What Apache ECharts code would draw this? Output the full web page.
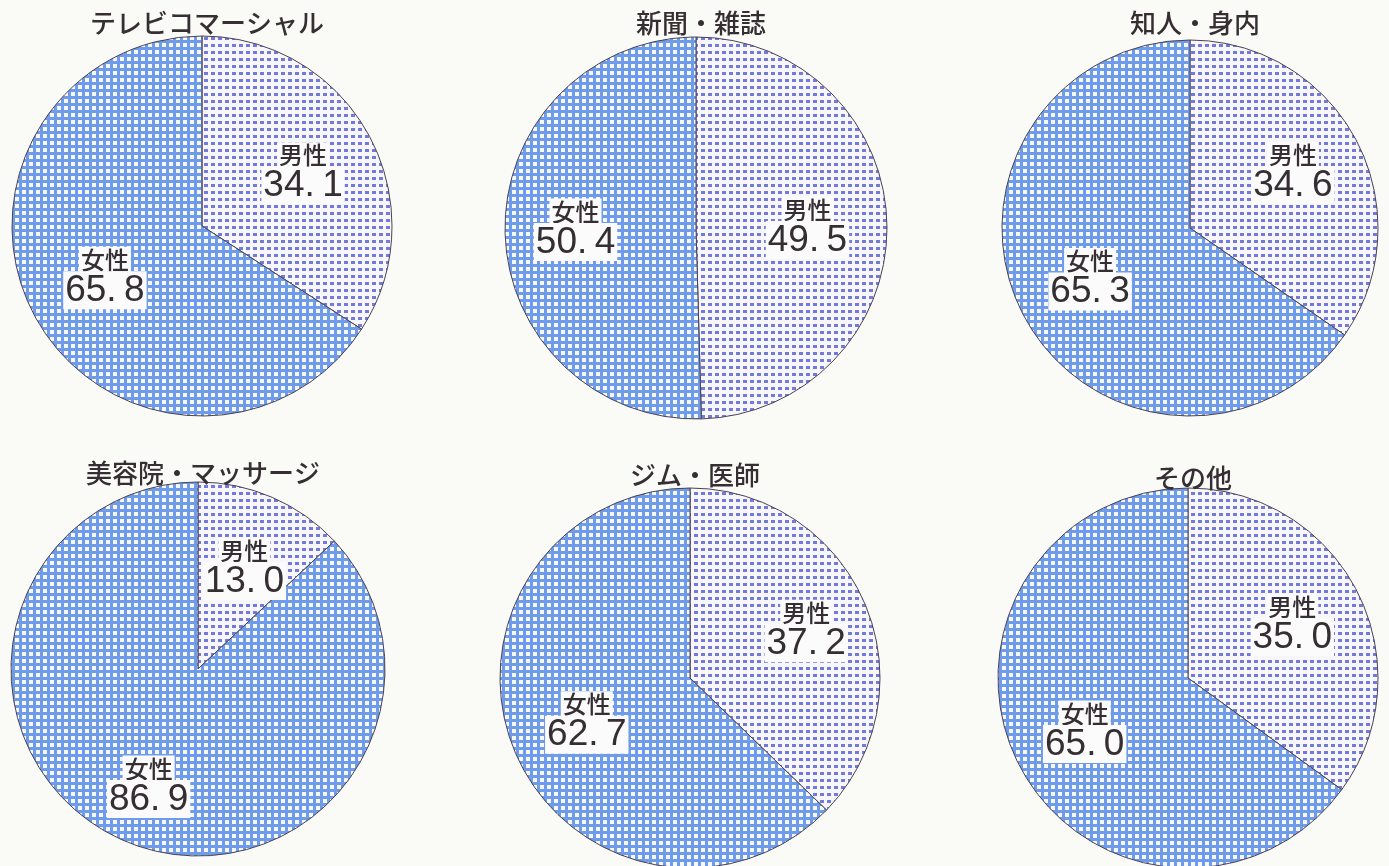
<!DOCTYPE html>
<html>
<head>
<meta charset="utf-8">
<script src="https://cdn.jsdelivr.net/npm/echarts@6/dist/echarts.min.js"></script>
<style>
  html, body { margin: 0; padding: 0; background: #fafaf7; }
  #chart { width: 1389px; height: 866px; }
</style>
</head>
<body>
<div id="chart"></div>
<script>
// 情報源別の男女比率（%）
const sources = ['テレビコマーシャル', '新聞・雑誌', '知人・身内', '美容院・マッサージ', 'ジム・医師', 'その他'];
const genders = ['男性', '女性'];
const maleShare = [34.1, 49.5, 34.6, 13.0, 37.2, 35.0];
const femaleShare = [65.8, 50.4, 65.3, 86.9, 62.7, 65.0];

// 各円の配置（中心・半径）とラベルの微調整
const centers = [[202, 226], [696, 228], [1190, 228], [198, 669], [690, 678], [1188, 678]];
const radii = [190, 191, 188, 187, 190, 190];
const titleY = [5, 5, 5, 455, 457, 460];
const labelShift = [
  [[15, -7], [-11, 4]],
  [[13, 0], [-22, -1]],
  [[17, -11], [-14, 5]],
  [[8, -13], [-11, 28]],
  [[26, -10], [-13, 5]],
  [[17, -10], [-16, 8]]
];

// 網掛け模様
function makePattern(bg, fg, size, x, y, w, h) {
  const c = document.createElement('canvas');
  c.width = size; c.height = size;
  const ctx = c.getContext('2d');
  ctx.fillStyle = bg; ctx.fillRect(0, 0, size, size);
  ctx.fillStyle = fg; ctx.fillRect(x, y, w, h);
  return c;
}
const malePattern = makePattern('#f6f6fb', '#7479dc', 7, 1, 2, 4, 3);
const femalePattern = makePattern('#6f9cea', '#f6f8fd', 7, 1, 1, 4, 4);
const fills = [malePattern, femalePattern];

const textColor = '#352e33';
const labelRich = {
  name: {
    fontFamily: '"Noto Sans CJK JP", sans-serif',
    fontSize: 24,
    fontWeight: 500,
    color: textColor,
    backgroundColor: '#fbfbfb',
    padding: [1, 2, 0, 2],
    lineHeight: 27
  },
  val: {
    fontFamily: '"Liberation Sans", Arimo, sans-serif',
    fontSize: 37,
    color: textColor,
    backgroundColor: '#fbfbfb',
    padding: [1, 2, 0, 2],
    lineHeight: 35
  }
};

const titles = sources.map((s, i) => ({
  text: s,
  left: centers[i][0],
  top: titleY[i],
  textAlign: 'center',
  textStyle: {
    fontFamily: '"Noto Sans CJK JP", sans-serif',
    fontSize: 26,
    fontWeight: 500,
    color: textColor
  }
}));

const series = sources.map((s, i) => ({
  type: 'pie',
  name: s,
  center: centers[i],
  radius: radii[i],
  startAngle: 90,
  clockwise: true,
  silent: true,
  animation: false,
  itemStyle: { borderColor: '#4d4350', borderWidth: 1 },
  label: {
    show: true,
    position: 'inside',
    formatter: p => '{name|' + p.name + '}\n{val|' + p.value.toFixed(1).replace('.', '.\u2009') + '}',
    rich: labelRich
  },
  labelLine: { show: false },
  labelLayout: p => ({ dx: labelShift[i][p.dataIndex][0], dy: labelShift[i][p.dataIndex][1] }),
  data: [
    { name: genders[0], value: maleShare[i], itemStyle: { color: { image: fills[0], repeat: 'repeat' } } },
    { name: genders[1], value: femaleShare[i], itemStyle: { color: { image: fills[1], repeat: 'repeat' } } }
  ]
}));

const chart = echarts.init(document.getElementById('chart'), null, { renderer: 'canvas' });
chart.setOption({
  backgroundColor: '#fafaf7',
  title: titles,
  series: series
});
</script>
</body>
</html>
